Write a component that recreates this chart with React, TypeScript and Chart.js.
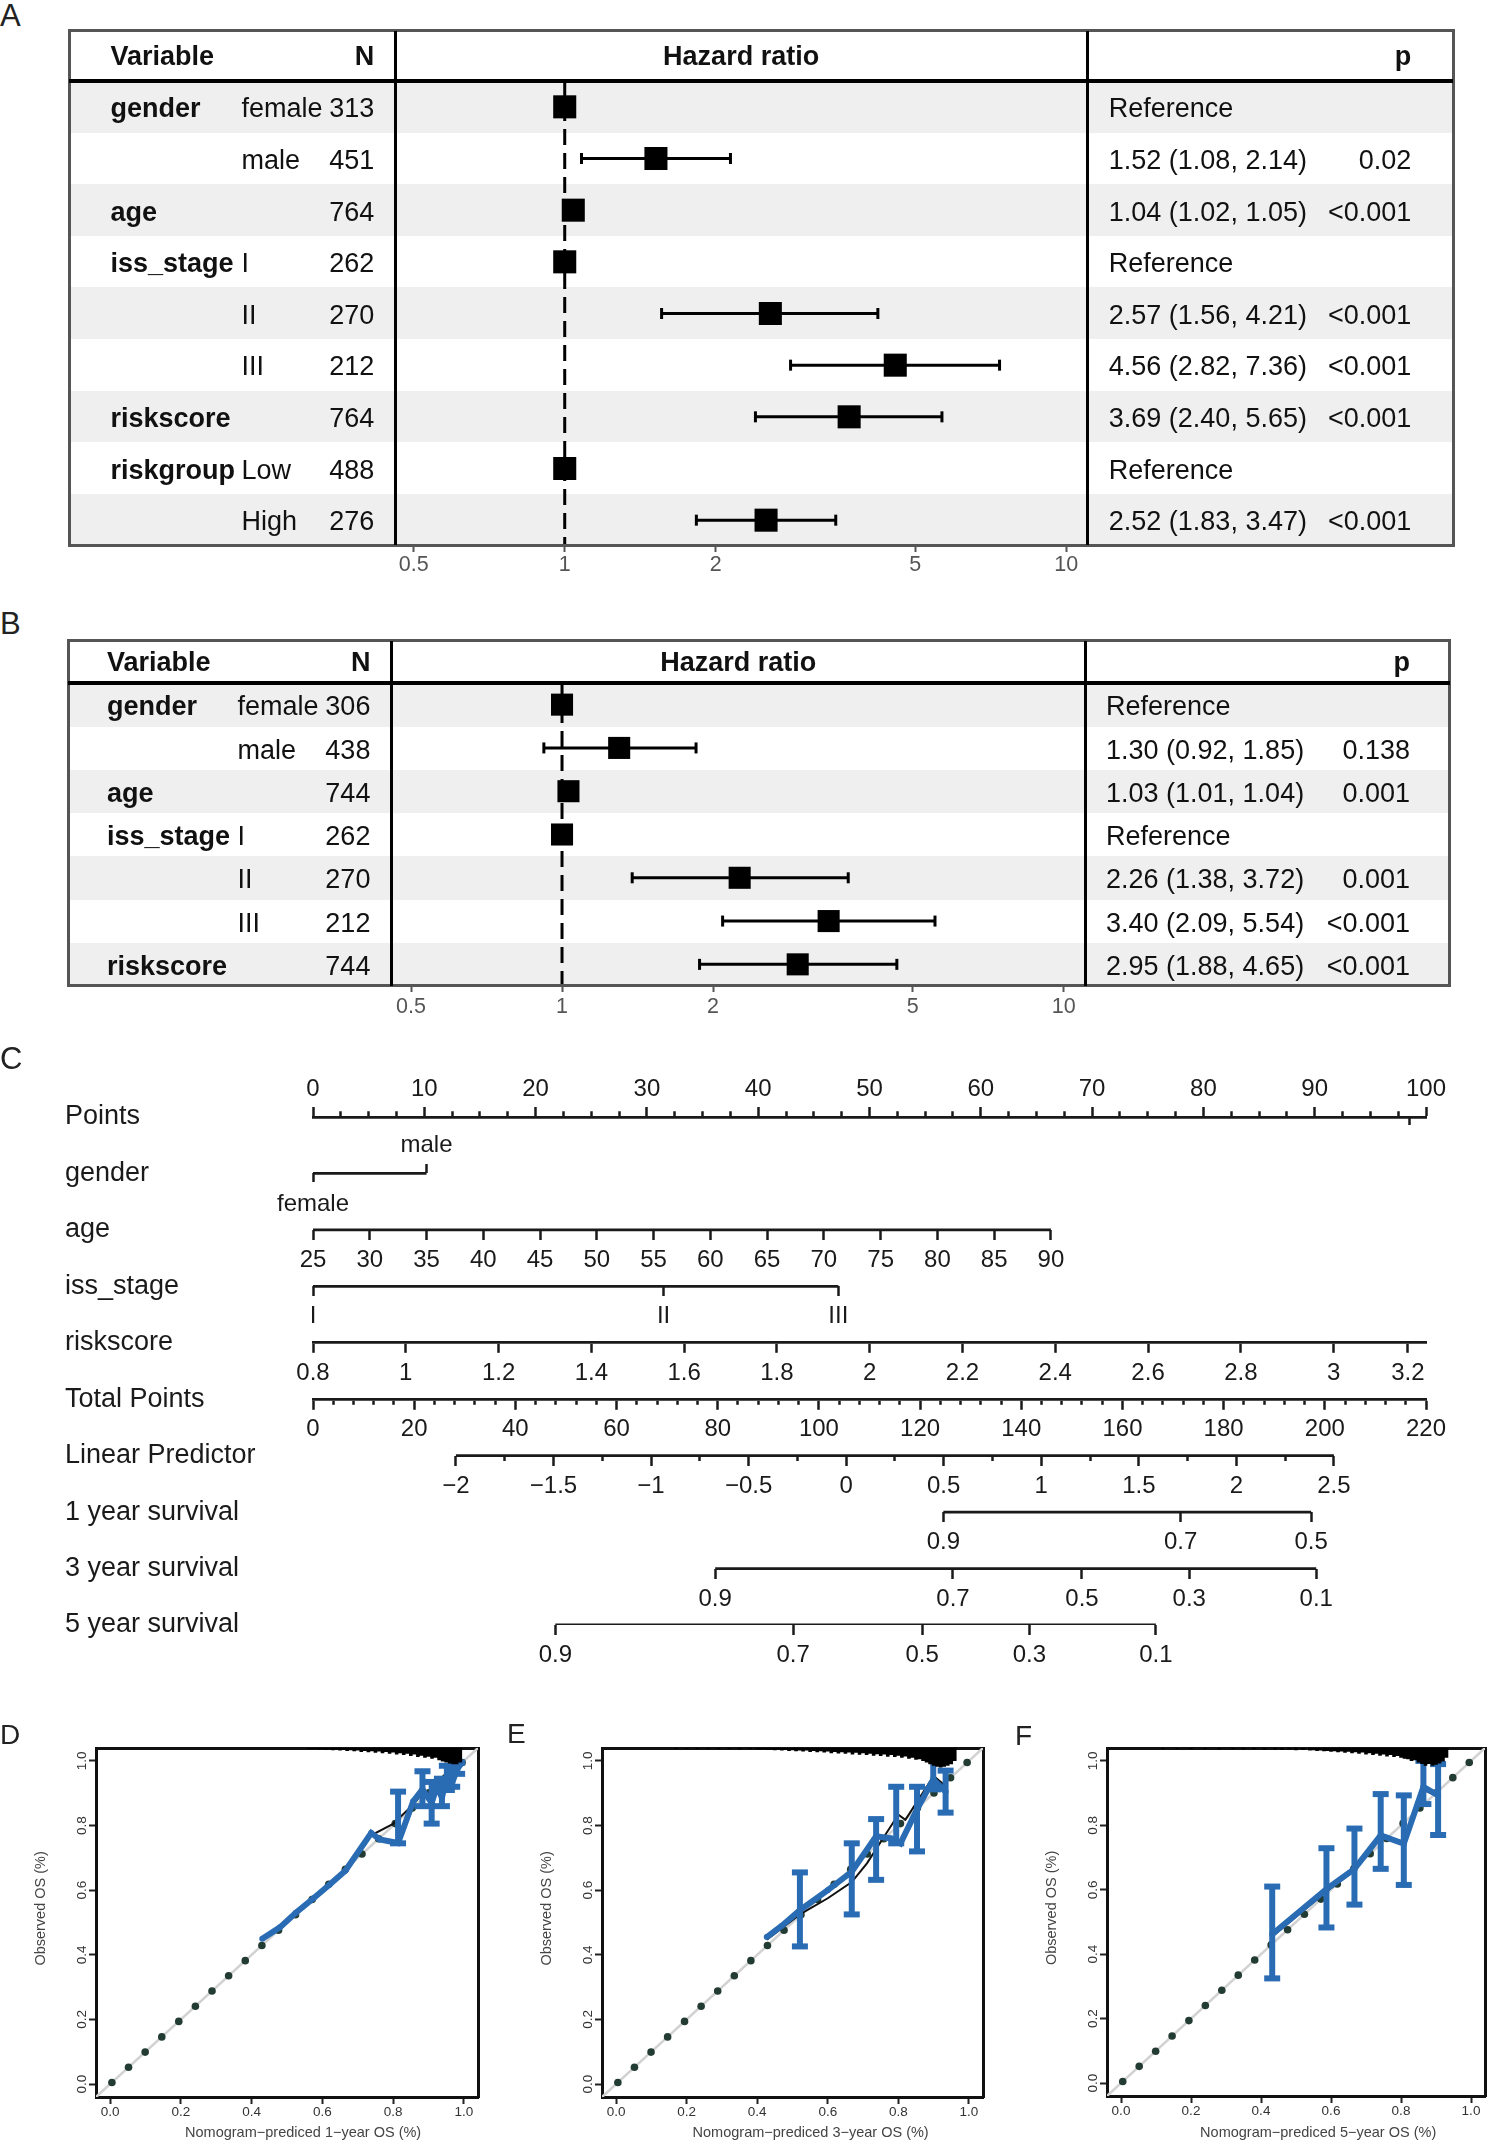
import React, { useEffect, useRef } from 'react';
import { Chart, registerables } from 'chart.js';

Chart.register(...registerables);

const FONT = "'Liberation Sans', Arial, Helvetica, sans-serif";
Chart.defaults.font.family = FONT;

const NBSP = '\u00a0';
const MINUS = '\u2212';
const INK = '#1a1a1a';
const BLUE = '#2a6cb4';

// ================= Panel A (forest plot) =================
const aVariables = ['gender', '', 'age', 'iss_stage', '', '', 'riskscore', 'riskgroup', ''];
const aLevels = ['female', 'male', '', 'I', 'II', 'III', '', 'Low', 'High'];
const aN = [313, 451, 764, 262, 270, 212, 764, 488, 276];
const aHR = [1, 1.52, 1.04, 1, 2.57, 4.56, 3.69, 1, 2.52];
const aLower = [null, 1.08, 1.02, null, 1.56, 2.82, 2.4, null, 1.83];
const aUpper = [null, 2.14, 1.05, null, 4.21, 7.36, 5.65, null, 3.47];
const aP = ['', '0.02', '<0.001', '', '<0.001', '<0.001', '<0.001', '', '<0.001'];

// ================= Panel B (forest plot) =================
const bVariables = ['gender', '', 'age', 'iss_stage', '', '', 'riskscore'];
const bLevels = ['female', 'male', '', 'I', 'II', 'III', ''];
const bN = [306, 438, 744, 262, 270, 212, 744];
const bHR = [1, 1.3, 1.03, 1, 2.26, 3.4, 2.95];
const bLower = [null, 0.92, 1.01, null, 1.38, 2.09, 1.88];
const bUpper = [null, 1.85, 1.04, null, 3.72, 5.54, 4.65];
const bP = ['', '0.138', '0.001', '', '0.001', '<0.001', '<0.001'];

const hrTicks = [0.5, 1, 2, 5, 10];
const hrReference = 1;

// ================= Panel C (nomogram) =================
const nomoRowLabels = ['Points', 'gender', 'age', 'iss_stage', 'riskscore', 'Total Points', 'Linear Predictor', '1 year survival', '3 year survival', '5 year survival'];
const pointsLabelled = [0, 10, 20, 30, 40, 50, 60, 70, 80, 90, 100];
const pointsMinorStep = 2.5;
const pointsExtraMark = 98.5;
const genderLevels = ['female', 'male'];
const genderPoints = [0, 10.2];
const ageTicks = [25, 30, 35, 40, 45, 50, 55, 60, 65, 70, 75, 80, 85, 90];
const ageAnchorValue = [25, 90];
const ageAnchorPoints = [0, 66.3];
const issLevels = ['I', 'II', 'III'];
const issPoints = [0, 31.5, 47.2];
const riskscoreTicks = [0.8, 1, 1.2, 1.4, 1.6, 1.8, 2, 2.2, 2.4, 2.6, 2.8, 3, 3.16];
const riskscoreLabels = ['0.8', '1', '1.2', '1.4', '1.6', '1.8', '2', '2.2', '2.4', '2.6', '2.8', '3', '3.2'];
const riskscoreAnchorValue = [0.8, 3];
const riskscoreAnchorPoints = [0, 91.7];
const totalPointsLabelled = [0, 20, 40, 60, 80, 100, 120, 140, 160, 180, 200, 220];
const totalPointsMinorStep = 4;
const lpLabelled = [-2, -1.5, -1, -0.5, 0, 0.5, 1, 1.5, 2, 2.5];
const lpMinorStep = 0.25;
const lpAnchorValue = [-2, 2.5];
const lpAnchorTotal = [28.25, 201.8];
const surv1Labels = ['0.9', '0.7', '0.5'];
const surv1Total = [124.6, 171.5, 197.3];
const surv3Labels = ['0.9', '0.7', '0.5', '0.3', '0.1'];
const surv3Total = [79.5, 126.5, 152.0, 173.2, 198.3];
const surv5Labels = ['0.9', '0.7', '0.5', '0.3', '0.1'];
const surv5Total = [47.9, 94.9, 120.4, 141.6, 166.6];

// ================= Panels D, E, F (calibration) =================
const calibTicks = [0, 0.2, 0.4, 0.6, 0.8, 1.0];
const calibRange = [-0.04, 1.04];
const idealDots = [0.005, 0.052, 0.099, 0.146, 0.194, 0.241, 0.288, 0.335, 0.382, 0.429, 0.476, 0.524, 0.571, 0.618, 0.665, 0.712, 0.759, 0.806, 0.854, 0.901, 0.948, 0.995];

const dPred = [0.43, 0.48, 0.525, 0.575, 0.62, 0.665, 0.738, 0.762, 0.814, 0.857, 0.883, 0.909, 0.924, 0.938, 0.952, 0.967, 0.981, 0.995];
const dObs = [0.45, 0.485, 0.53, 0.575, 0.617, 0.66, 0.777, 0.757, 0.746, 0.875, 0.912, 0.87, 0.922, 0.886, 0.953, 0.933, 0.974, 0.995];
const dBarX = [0.814, 0.883, 0.909, 0.938, 0.952, 0.967, 0.981];
const dBarLo = [0.745, 0.86, 0.806, 0.86, 0.91, 0.92, 0.96];
const dBarHi = [0.905, 0.968, 0.935, 0.945, 0.985, 0.975, 0.995];
const dBlackX = [0.43, 0.665, 0.738, 0.8, 0.857, 0.883, 0.909, 0.952, 0.995];
const dBlackY = [0.445, 0.655, 0.77, 0.805, 0.865, 0.9, 0.885, 0.945, 0.99];
const dRugX = [0.56, 0.57, 0.58, 0.59, 0.6, 0.61, 0.62, 0.63, 0.64, 0.65, 0.66, 0.67, 0.68, 0.69, 0.7, 0.71, 0.72, 0.73, 0.74, 0.75, 0.76, 0.77, 0.78, 0.79, 0.8, 0.81, 0.82, 0.83, 0.84, 0.85, 0.86, 0.87, 0.88, 0.89, 0.9, 0.91, 0.92, 0.93, 0.94, 0.95, 0.96, 0.97, 0.98, 0.99];
const dRugLen = [0.003, 0.004, 0.003, 0.005, 0.004, 0.006, 0.004, 0.007, 0.005, 0.008, 0.006, 0.009, 0.007, 0.01, 0.008, 0.012, 0.009, 0.013, 0.01, 0.015, 0.011, 0.016, 0.012, 0.018, 0.014, 0.02, 0.016, 0.022, 0.018, 0.025, 0.02, 0.028, 0.024, 0.03, 0.027, 0.033, 0.03, 0.038, 0.042, 0.045, 0.048, 0.05, 0.05, 0.045];

const ePred = [0.427, 0.47, 0.521, 0.6, 0.668, 0.737, 0.78, 0.806, 0.853, 0.899, 0.934];
const eObs = [0.455, 0.49, 0.538, 0.6, 0.657, 0.767, 0.76, 0.745, 0.85, 0.943, 0.905];
const eBarX = [0.521, 0.668, 0.737, 0.794, 0.853, 0.899, 0.934];
const eBarLo = [0.426, 0.525, 0.632, 0.745, 0.72, 0.912, 0.84];
const eBarHi = [0.655, 0.745, 0.82, 0.92, 0.92, 1.01, 0.97];
const eBlackX = [0.427, 0.521, 0.6, 0.668, 0.711, 0.8, 0.82, 0.9, 0.934];
const eBlackY = [0.447, 0.525, 0.575, 0.625, 0.683, 0.834, 0.818, 0.953, 0.922];
const eRugX = [0.17, 0.2, 0.23, 0.26, 0.29, 0.32, 0.35, 0.38, 0.4, 0.41, 0.42, 0.43, 0.44, 0.45, 0.46, 0.47, 0.48, 0.49, 0.5, 0.51, 0.52, 0.53, 0.54, 0.55, 0.56, 0.57, 0.58, 0.59, 0.6, 0.61, 0.62, 0.63, 0.64, 0.65, 0.66, 0.67, 0.68, 0.69, 0.7, 0.71, 0.72, 0.73, 0.74, 0.75, 0.76, 0.77, 0.78, 0.79, 0.8, 0.81, 0.82, 0.83, 0.84, 0.85, 0.86, 0.87, 0.88, 0.89, 0.9, 0.91, 0.92, 0.93, 0.94, 0.95, 0.96];
const eRugLen = [0.003, 0.002, 0.003, 0.002, 0.003, 0.003, 0.004, 0.003, 0.004, 0.005, 0.004, 0.006, 0.005, 0.007, 0.005, 0.008, 0.006, 0.009, 0.007, 0.01, 0.008, 0.011, 0.008, 0.012, 0.009, 0.013, 0.01, 0.014, 0.011, 0.016, 0.012, 0.017, 0.013, 0.018, 0.014, 0.02, 0.015, 0.021, 0.016, 0.022, 0.018, 0.024, 0.019, 0.025, 0.02, 0.027, 0.022, 0.028, 0.024, 0.03, 0.026, 0.033, 0.03, 0.036, 0.035, 0.04, 0.045, 0.05, 0.055, 0.058, 0.06, 0.058, 0.055, 0.05, 0.04];

const fPred = [0.432, 0.587, 0.667, 0.742, 0.808, 0.864, 0.906];
const fObs = [0.462, 0.602, 0.665, 0.769, 0.743, 0.919, 0.893];
const fBarX = [0.432, 0.587, 0.667, 0.742, 0.808, 0.864, 0.906];
const fBarLo = [0.325, 0.483, 0.554, 0.665, 0.615, 0.866, 0.77];
const fBarHi = [0.61, 0.729, 0.79, 0.897, 0.893, 1.0, 0.99];
const fBlackX = [0.432, 0.587, 0.667, 0.742, 0.808, 0.864, 0.906];
const fBlackY = [0.455, 0.595, 0.66, 0.762, 0.75, 0.91, 0.89];
const fRugX = [0.12, 0.16, 0.2, 0.24, 0.28, 0.32, 0.35, 0.38, 0.41, 0.44, 0.46, 0.48, 0.5, 0.52, 0.54, 0.55, 0.56, 0.57, 0.58, 0.59, 0.6, 0.61, 0.62, 0.63, 0.64, 0.65, 0.66, 0.67, 0.68, 0.69, 0.7, 0.71, 0.72, 0.73, 0.74, 0.75, 0.76, 0.77, 0.78, 0.79, 0.8, 0.81, 0.82, 0.83, 0.84, 0.85, 0.86, 0.87, 0.88, 0.89, 0.9, 0.91, 0.92, 0.93];
const fRugLen = [0.003, 0.002, 0.003, 0.003, 0.004, 0.003, 0.004, 0.004, 0.005, 0.005, 0.006, 0.005, 0.007, 0.006, 0.008, 0.007, 0.009, 0.008, 0.01, 0.009, 0.012, 0.01, 0.013, 0.011, 0.015, 0.012, 0.016, 0.013, 0.018, 0.014, 0.02, 0.016, 0.022, 0.018, 0.024, 0.02, 0.026, 0.022, 0.028, 0.025, 0.03, 0.033, 0.035, 0.04, 0.038, 0.045, 0.05, 0.055, 0.05, 0.055, 0.052, 0.048, 0.042, 0.03];

// ================= helpers =================
function stepTicks(from: number, to: number, step: number) {
  const out: number[] = [];
  const n = Math.round((to - from) / step);
  for (let k = 0; k <= n; k++) out.push(+(from + k * step).toFixed(6));
  return out;
}
const isOn = (v: number, list: number[]) => list.some((t) => Math.abs(t - v) < 1e-6);
const lin = (vals: number[], pos: number[], at: number) => vals[0] + ((vals[1] - vals[0]) * (at - pos[0])) / (pos[1] - pos[0]);

function ChartCanvas({ left, top, width, height, make }: any) {
  const ref = useRef<HTMLCanvasElement | null>(null);
  useEffect(() => {
    if (!ref.current) return;
    const chart = new Chart(ref.current, make());
    return () => chart.destroy();
  }, []);
  return <canvas ref={ref} width={width} height={height} style={{ position: 'absolute', left, top, width, height, zIndex: 1 }} />;
}

function Txt({ x, y, children, align = 'left', size, bold = false, color = '#111' }: any) {
  const lh = Math.round(size * 1.4);
  const st: any = {
    position: 'absolute', top: y - lh / 2, height: lh, lineHeight: `${lh}px`, fontSize: size, fontFamily: FONT,
    fontWeight: bold ? 700 : 400, color, whiteSpace: 'nowrap', zIndex: 3,
  };
  if (align === 'left') st.left = x;
  else if (align === 'right') { st.left = x - 600; st.width = 600; st.textAlign = 'right'; }
  else { st.left = x - 400; st.width = 800; st.textAlign = 'center'; }
  return <div style={st}>{children}</div>;
}

function Rect({ x, y, w, h, bg, z = 2 }: any) {
  return <div style={{ position: 'absolute', left: x, top: y, width: w, height: h, background: bg, zIndex: z }} />;
}

// ================= forest =================
const geomA = {
  left: 69.3, top: 30.9, right: 1453.3, bottom: 545.5, header: 81, div1: 395, div2: 1087.3,
  headerY: 55.8, varX: 110.5, levelX: 241.4, nRight: 374.2, ciX: 1108.8, pRight: 1411.3,
  canvasLeft: 395, canvasTop: 81, canvasW: 692, chartH: 465, hrMin: 0.4588, hrMax: 10.996, squareR: 16.3, tickPad: 0.6,
};
const geomB = {
  left: 68.4, top: 640.7, right: 1450, bottom: 986, header: 683.3, div1: 391, div2: 1085.5,
  headerY: 662, varX: 107, levelX: 237.4, nRight: 370.4, ciX: 1106, pRight: 1410,
  canvasLeft: 391, canvasTop: 683, canvasW: 695, chartH: 303, hrMin: 0.4561, hrMax: 11.08, squareR: 15.6, tickPad: 1.8,
};
const FOREST_AXIS_H = 40;

function forestConfig(g: any, hr: number[], lower: any[], upper: any[]) {
  const rows = hr.length;
  const ciSets = hr
    .map((_, i) =>
      lower[i] == null
        ? null
        : {
            type: 'line',
            data: [{ x: lower[i], y: i }, { x: upper[i], y: i }],
            borderColor: '#000', borderWidth: 3, pointStyle: 'line', pointRotation: 90,
            pointRadius: 5.5, pointHoverRadius: 5.5, pointBorderWidth: 3, pointBorderColor: '#000', order: 1,
          })
    .filter(Boolean);
  return {
    type: 'scatter',
    data: {
      datasets: [
        {
          type: 'scatter', data: hr.map((v, i) => ({ x: v, y: i })), pointStyle: 'rect',
          pointRadius: g.squareR, pointHoverRadius: g.squareR, backgroundColor: '#000', borderWidth: 0, order: 0,
        },
        ...ciSets,
        {
          type: 'line', data: [{ x: hrReference, y: -0.5 }, { x: hrReference, y: rows - 0.5 }],
          borderColor: '#000', borderWidth: 3, borderDash: [16, 8], pointRadius: 0, order: 2,
        },
      ],
    },
    options: {
      responsive: false, animation: false, events: [],
      layout: { padding: 0, autoPadding: false },
      plugins: { legend: { display: false }, tooltip: { enabled: false } },
      scales: {
        x: {
          type: 'logarithmic', position: 'bottom', min: g.hrMin, max: g.hrMax, bounds: 'data',
          afterBuildTicks: (s: any) => { s.ticks = hrTicks.map((v) => ({ value: v })); },
          afterFit: (s: any) => { s.height = FOREST_AXIS_H; },
          ticks: {
            autoSkip: false, maxRotation: 0, minRotation: 0, padding: g.tickPad, color: '#555',
            font: { size: 21.5 }, callback: (_v: any, i: number) => String(hrTicks[i]),
          },
          grid: { display: true, drawOnChartArea: false, drawTicks: true, tickLength: 6, tickWidth: 2, tickColor: '#555' },
          border: { display: false },
        },
        y: { type: 'linear', min: -0.5, max: rows - 0.5, reverse: true, display: false },
      },
    },
  };
}

function ForestPanel({ g, variables, levels, n, hr, lower, upper, p }: any) {
  const rows = hr.length;
  const rowH = (g.bottom - g.header) / rows;
  const w = g.right - g.left;
  const fs = 27;
  const els: any[] = [];
  for (let i = 0; i < rows; i++) {
    if (i % 2 === 0) els.push(<Rect key={'bg' + i} x={g.left} y={g.header + i * rowH} w={w} h={rowH} bg="#efefef" z={0} />);
  }
  els.push(
    <div key="outer" style={{ position: 'absolute', left: g.left - 1.5, top: g.top - 1.5, width: w + 3, height: g.bottom - g.top + 3, border: '3px solid #555', boxSizing: 'border-box', zIndex: 2 }} />
  );
  els.push(<Rect key="hline" x={g.left} y={g.header - 2} w={w} h={4} bg="#000" />);
  els.push(<Rect key="d1" x={g.div1 - 1.5} y={g.top} w={3} h={g.bottom - g.top} bg="#000" />);
  els.push(<Rect key="d2" x={g.div2 - 1.5} y={g.top} w={3} h={g.bottom - g.top} bg="#000" />);
  els.push(<Txt key="hv" x={g.varX} y={g.headerY} size={fs} bold>Variable</Txt>);
  els.push(<Txt key="hn" x={g.nRight} y={g.headerY} size={fs} bold align="right">N</Txt>);
  els.push(<Txt key="hh" x={(g.div1 + g.div2) / 2} y={g.headerY} size={fs} bold align="center">Hazard ratio</Txt>);
  els.push(<Txt key="hp" x={g.pRight} y={g.headerY} size={fs} bold align="right">p</Txt>);
  for (let i = 0; i < rows; i++) {
    const cy = g.header + (i + 0.5) * rowH + 1.5;
    const ci = lower[i] == null ? 'Reference' : `${hr[i].toFixed(2)} (${lower[i].toFixed(2)}, ${upper[i].toFixed(2)})`;
    if (variables[i]) els.push(<Txt key={'v' + i} x={g.varX} y={cy} size={fs} bold>{variables[i]}</Txt>);
    if (levels[i]) els.push(<Txt key={'l' + i} x={g.levelX} y={cy} size={fs}>{levels[i]}</Txt>);
    els.push(<Txt key={'n' + i} x={g.nRight} y={cy} size={fs} align="right">{String(n[i])}</Txt>);
    els.push(<Txt key={'c' + i} x={g.ciX} y={cy} size={fs}>{ci}</Txt>);
    if (p[i]) els.push(<Txt key={'p' + i} x={g.pRight} y={cy} size={fs} align="right">{p[i]}</Txt>);
  }
  return (
    <>
      {els}
      <ChartCanvas left={g.canvasLeft} top={g.canvasTop} width={g.canvasW} height={g.chartH + FOREST_AXIS_H} make={() => forestConfig(g, hr, lower, upper)} />
    </>
  );
}

// ================= nomogram =================
const NOMO = { left: 0, top: 1062, width: 1489, height: 620, padLeft: 65, padRight: 63, padBottom: 57, topAxisH: 55, yAxisW: 248 };

function nomogramConfig() {
  const R = (name: string) => nomoRowLabels.indexOf(name);
  const pointsTicks = stepTicks(0, 100, pointsMinorStep);
  const totalMax = totalPointsLabelled[totalPointsLabelled.length - 1];
  const totalTicks = stepTicks(0, totalMax, totalPointsMinorStep);
  const lpTicks = stepTicks(lpLabelled[0], lpLabelled[lpLabelled.length - 1], lpMinorStep);
  const fmtLP = (v: number) => (v < 0 ? MINUS + String(-v) : String(v));

  const axis = (row: number, min: number, max: number, vals: number[], label: (v: number, i: number) => string, o: any = {}) => {
    const tl = o.tl ?? 10;
    return {
      type: 'linear', axis: 'x', position: { y: row }, min, max, bounds: 'data',
      afterBuildTicks: (s: any) => { s.ticks = vals.map((v) => ({ value: v })); },
      ticks: {
        autoSkip: false, maxRotation: 0, minRotation: 0, padding: o.pad ?? 6, color: INK, font: { size: 24 },
        callback: (_v: any, i: number) => label(vals[i], i),
      },
      grid: {
        display: true, drawOnChartArea: false, drawTicks: true, tickLength: tl, tickWidth: 2.5, tickColor: INK,
        tickBorderDash: (ctx: any) => (o.minor && ctx.tick && o.minor(ctx.tick.value) ? [o.minorLen ?? 5, 100] : []),
      },
      border: { display: !!o.border, width: 2.8, color: INK },
    };
  };
  const seg = (xAxisID: string, row: number, a: number, b: number) => ({
    type: 'line', xAxisID, yAxisID: 'y', data: [{ x: a, y: row }, { x: b, y: row }],
    borderColor: INK, borderWidth: 2.8, pointRadius: 0, pointHoverRadius: 0,
  });
  const last = (arr: any[]) => arr[arr.length - 1];

  return {
    type: 'scatter',
    data: {
      datasets: [
        seg('x', R('gender'), genderPoints[0], genderPoints[1]),
        seg('xAge', R('age'), ageTicks[0], last(ageTicks)),
        seg('x', R('iss_stage'), issPoints[0], last(issPoints)),
        seg('xLP', R('Linear Predictor'), lpLabelled[0], last(lpLabelled)),
        seg('xS1', R('1 year survival'), surv1Total[0], last(surv1Total)),
        seg('xS3', R('3 year survival'), surv3Total[0], last(surv3Total)),
        seg('xS5', R('5 year survival'), surv5Total[0], last(surv5Total)),
      ],
    },
    options: {
      responsive: false, animation: false, events: [],
      layout: { padding: { left: NOMO.padLeft, right: NOMO.padRight, top: 0, bottom: NOMO.padBottom }, autoPadding: false },
      plugins: { legend: { display: false }, tooltip: { enabled: false } },
      scales: {
        x: {
          type: 'linear', position: 'top', min: 0, max: 100, bounds: 'data',
          afterBuildTicks: (s: any) => { s.ticks = pointsTicks.map((v) => ({ value: v })); },
          afterFit: (s: any) => { s.height = NOMO.topAxisH; },
          ticks: {
            autoSkip: false, maxRotation: 0, minRotation: 0, padding: 3.6, color: INK, font: { size: 24 },
            callback: (_v: any, i: number) => (isOn(pointsTicks[i], pointsLabelled) ? String(pointsTicks[i]) : ''),
          },
          grid: {
            display: true, drawOnChartArea: false, drawTicks: true, tickLength: 10, tickWidth: 2.5, tickColor: INK,
            tickBorderDash: (ctx: any) => (ctx.tick && !isOn(ctx.tick.value, pointsLabelled) ? [0, 4.3, 10, 100] : []),
          },
          border: { display: true, width: 2.8, color: INK },
        },
        y: {
          type: 'linear', position: 'left', min: 0, max: nomoRowLabels.length - 1, reverse: true, bounds: 'data',
          afterBuildTicks: (s: any) => { s.ticks = nomoRowLabels.map((_, i) => ({ value: i })); },
          afterFit: (s: any) => { s.width = NOMO.yAxisW; },
          ticks: { autoSkip: false, crossAlign: 'far', padding: 0, color: INK, font: { size: 27 }, callback: (_v: any, i: number) => nomoRowLabels[i] },
          grid: { display: false },
          border: { display: false },
        },
        xPtsMark: axis(R('Points'), 0, 100, [pointsExtraMark], () => '', { tl: 8 }),
        xGender: axis(R('gender'), 0, 100, [genderPoints[0]], () => genderLevels[0], { tl: 9, pad: 7.3 }),
        xGenderUp: axis(R('gender'), 0, 100, [genderPoints[1]], () => genderLevels[1], { tl: -9, pad: -33 }),
        xAge: axis(R('age'), lin(ageAnchorValue, ageAnchorPoints, 0), lin(ageAnchorValue, ageAnchorPoints, 100), ageTicks, (v) => String(v), { pad: 6 }),
        xIss: axis(R('iss_stage'), 0, 100, issPoints, (_v, i) => issLevels[i], { pad: 6 }),
        xRisk: axis(
          R('riskscore'), lin(riskscoreAnchorValue, riskscoreAnchorPoints, 0), lin(riskscoreAnchorValue, riskscoreAnchorPoints, 100),
          riskscoreTicks, (_v, i) => riskscoreLabels[i], { tl: 9, pad: 7, border: true }
        ),
        xTotal: axis(R('Total Points'), 0, totalMax, totalTicks, (v) => (isOn(v, totalPointsLabelled) ? String(v) : ''), {
          tl: 9, pad: 7, border: true, minor: (v: number) => !isOn(v, totalPointsLabelled), minorLen: 4,
        }),
        xLP: axis(R('Linear Predictor'), lin(lpAnchorValue, lpAnchorTotal, 0), lin(lpAnchorValue, lpAnchorTotal, totalMax), lpTicks,
          (v) => (isOn(v, lpLabelled) ? fmtLP(v) : ''), { pad: 6, minor: (v: number) => !isOn(v, lpLabelled) }),
        xS1: axis(R('1 year survival'), 0, totalMax, surv1Total, (_v, i) => surv1Labels[i], { pad: 6 }),
        xS3: axis(R('3 year survival'), 0, totalMax, surv3Total, (_v, i) => surv3Labels[i], { pad: 6 }),
        xS5: axis(R('5 year survival'), 0, totalMax, surv5Total, (_v, i) => surv5Labels[i], { pad: 6 }),
      },
    },
  };
}

// ================= calibration =================
function calibConfig(c: any, L: any) {
  const top = calibRange[1];
  const rugData = c.rugX.flatMap((x: number, i: number) => [{ x, y: top }, { x, y: top - c.rugLen[i] }, { x: NaN, y: NaN }]);
  const bars = c.barX.map((x: number, i: number) => ({
    type: 'line', data: [{ x, y: c.barLo[i] }, { x, y: c.barHi[i] }],
    borderColor: BLUE, borderWidth: 6, pointStyle: 'line', pointRadius: 8, pointHoverRadius: 8,
    pointBorderWidth: 6, pointBorderColor: BLUE, order: 1,
  }));
  const tickFmt = (v: any) => Number(v).toFixed(1);
  const common = {
    type: 'linear', min: calibRange[0], max: calibRange[1], bounds: 'data',
    afterBuildTicks: (s: any) => { s.ticks = calibTicks.map((v) => ({ value: v })); },
    grid: { display: true, drawOnChartArea: false, drawTicks: true, tickLength: 7, tickWidth: 2, tickColor: '#222' },
    border: { display: true, width: 3, color: '#111' },
  };
  const frame = {
    type: 'linear', min: calibRange[0], max: calibRange[1], ticks: { display: false },
    grid: { display: false, drawTicks: false }, border: { display: true, width: 3, color: '#111' },
  };
  return {
    type: 'scatter',
    data: {
      datasets: [
        { type: 'line', data: rugData, borderColor: '#000', borderWidth: 3.6, pointRadius: 0, pointHoverRadius: 0, spanGaps: false, order: 0 },
        ...bars,
        {
          type: 'line', data: c.pred.map((x: number, i: number) => ({ x, y: c.obs[i] })), borderColor: BLUE, borderWidth: 6,
          pointRadius: 3, pointHoverRadius: 3, pointBackgroundColor: BLUE, pointBorderWidth: 0, order: 2,
        },
        {
          type: 'line', data: c.blackX.map((x: number, i: number) => ({ x, y: c.blackY[i] })), borderColor: '#111',
          borderWidth: 2, pointRadius: 0, pointHoverRadius: 0, order: 3,
        },
        { type: 'scatter', data: idealDots.map((v) => ({ x: v, y: v })), pointRadius: 3.8, pointHoverRadius: 3.8, backgroundColor: '#233c33', borderWidth: 0, order: 4 },
        {
          type: 'line', data: [{ x: calibRange[0], y: calibRange[0] }, { x: calibRange[1], y: calibRange[1] }],
          borderColor: '#d2d2d2', borderWidth: 2.5, pointRadius: 0, pointHoverRadius: 0, order: 5,
        },
      ],
    },
    options: {
      responsive: false, animation: false, events: [],
      layout: { padding: { left: 0, top: 10, right: L.padRight, bottom: 0 }, autoPadding: false },
      plugins: { legend: { display: false }, tooltip: { enabled: false } },
      scales: {
        x: {
          ...common, position: 'bottom', offset: false,
          afterFit: (s: any) => { s.height = L.xAxisH; },
          ticks: { autoSkip: false, maxRotation: 0, minRotation: 0, padding: 0, color: '#333', font: { size: 13.5 }, callback: tickFmt },
          title: { display: true, text: NBSP.repeat(L.xShift) + c.xTitle, color: '#444', font: { size: 14.5 }, padding: { top: 0, bottom: 0 } },
        },
        y: {
          ...common, position: 'left',
          afterFit: (s: any) => { s.width = L.yAxisW; },
          ticks: { autoSkip: false, minRotation: 90, maxRotation: 90, crossAlign: 'center', padding: -2.4, color: '#333', font: { size: 13.5 }, callback: tickFmt },
          title: { display: true, text: NBSP.repeat(7) + 'Observed OS (%)', color: '#444', font: { size: 14.5 }, padding: { top: 32, bottom: 0 } },
        },
        x2: { ...frame, axis: 'x', position: 'top' },
        y2: { ...frame, axis: 'y', position: 'right' },
      },
    },
  };
}

const calibD = { pred: dPred, obs: dObs, barX: dBarX, barLo: dBarLo, barHi: dBarHi, blackX: dBlackX, blackY: dBlackY, rugX: dRugX, rugLen: dRugLen, xTitle: `Nomogram${MINUS}prediced 1${MINUS}year OS (%)` };
const calibE = { pred: ePred, obs: eObs, barX: eBarX, barLo: eBarLo, barHi: eBarHi, blackX: eBlackX, blackY: eBlackY, rugX: eRugX, rugLen: eRugLen, xTitle: `Nomogram${MINUS}prediced 3${MINUS}year OS (%)` };
const calibF = { pred: fPred, obs: fObs, barX: fBarX, barLo: fBarLo, barHi: fBarHi, blackX: fBlackX, blackY: fBlackY, rugX: fRugX, rugLen: fRugLen, xTitle: `Nomogram${MINUS}prediced 5${MINUS}year OS (%)` };

const layD = { left: 0, top: 1738, width: 484, height: 404, padRight: 6, yAxisW: 96, xAxisH: 45, xShift: 8 };
const layE = { left: 506, top: 1738, width: 483, height: 404, padRight: 6, yAxisW: 96, xAxisH: 45, xShift: 9 };
const layF = { left: 1011, top: 1738, width: 478, height: 404, padRight: 4, yAxisW: 96, xAxisH: 46, xShift: 11 };

export default function App() {
  return (
    <div style={{ position: 'absolute', left: 0, top: 0, width: 1489, height: 2142, overflow: 'hidden', background: '#fff', fontFamily: FONT }}>
      <Txt x={0} y={15.5} size={31} color="#222">A</Txt>
      <Txt x={0} y={623} size={31} color="#222">B</Txt>
      <Txt x={0} y={1058} size={31} color="#222">C</Txt>
      <Txt x={0} y={1734} size={28} color="#222">D</Txt>
      <Txt x={507} y={1733.5} size={28} color="#222">E</Txt>
      <Txt x={1015} y={1735} size={28} color="#222">F</Txt>

      <ForestPanel g={geomA} variables={aVariables} levels={aLevels} n={aN} hr={aHR} lower={aLower} upper={aUpper} p={aP} />
      <ForestPanel g={geomB} variables={bVariables} levels={bLevels} n={bN} hr={bHR} lower={bLower} upper={bUpper} p={bP} />

      <ChartCanvas left={NOMO.left} top={NOMO.top} width={NOMO.width} height={NOMO.height} make={nomogramConfig} />

      <ChartCanvas left={layD.left} top={layD.top} width={layD.width} height={layD.height} make={() => calibConfig(calibD, layD)} />
      <ChartCanvas left={layE.left} top={layE.top} width={layE.width} height={layE.height} make={() => calibConfig(calibE, layE)} />
      <ChartCanvas left={layF.left} top={layF.top} width={layF.width} height={layF.height} make={() => calibConfig(calibF, layF)} />
    </div>
  );
}
